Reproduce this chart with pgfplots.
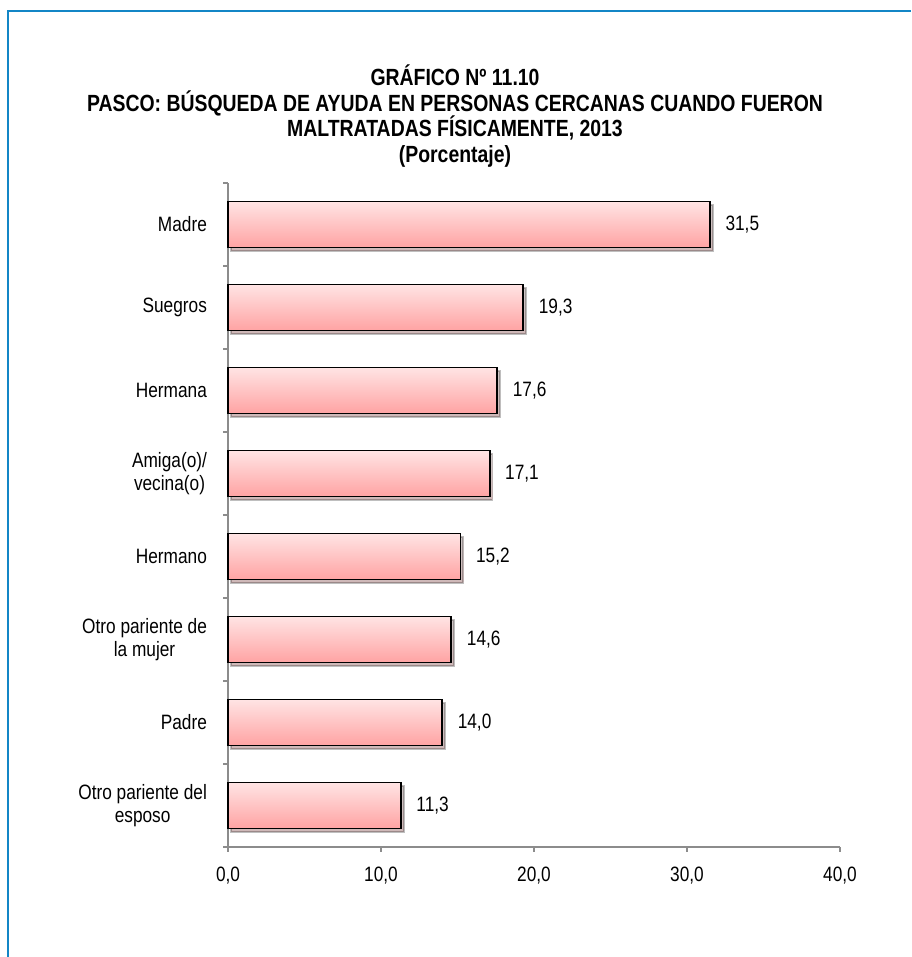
\documentclass[border=0pt]{standalone}
\usepackage{fontspec}
\setmainfont{Liberation Sans}[FakeStretch=0.83]
\usepackage{pgfplots}
\pgfplotsset{compat=1.18}
\usetikzlibrary{shadows}
\definecolor{frameblue}{RGB}{19,134,198}
\definecolor{bartop}{RGB}{255,228,228}
\definecolor{barbot}{RGB}{255,163,163}
\pgfplotsset{mybar/.style={draw=black, line width=0.9pt, top color=bartop, bottom color=barbot,
  drop shadow={shadow xshift=1.4pt, shadow yshift=-1.6pt, opacity=0.25, fill=black}}}
\begin{document}
\begin{tikzpicture}
\useasboundingbox (0,0) rectangle (455.5pt,478.5pt);
\draw[frameblue, line width=1.1pt] (4pt,0) -- (4pt,473pt) -- (455.5pt,473pt);
\node[font=\bfseries\fontsize{11.7}{12.8}\selectfont, align=center, anchor=north] at (227.5pt,449.5pt)
  {GRÁFICO Nº 11.10\\PASCO: BÚSQUEDA DE AYUDA EN PERSONAS CERCANAS CUANDO FUERON\\MALTRATADAS FÍSICAMENTE, 2013\\(Porcentaje)};
\begin{axis}[
  at={(114pt,55pt)}, anchor=south west,
  scale only axis, width=306pt, height=332pt,
  xmin=0, xmax=40, ymin=-0.5, ymax=7.5,
  xbar, bar width=23pt, bar shift=0pt,
  axis x line*=bottom, axis y line*=left,
  axis line style={black!45, line width=0.6pt},
  tick style={black!45, line width=0.6pt},
  tick align=outside, major tick length=2.5pt,
  xtick={0,10,20,30,40},
  ytick={-0.5,0.5,...,7.5}, yticklabels={},
  extra y ticks={0,1,2,3,4,5,6,7},
  extra y tick labels={{Otro pariente del\\esposo},{Padre},{Otro pariente de\\la mujer},{Hermano},{Amiga(o)/\\vecina(o)},{Hermana},{Suegros},{Madre}},
  extra y tick style={major tick length=0pt},
  yticklabel style={align=center, font=\fontsize{10.4}{11.6}\selectfont, xshift=-7pt},
  xticklabel style={font=\fontsize{10.4}{11.6}\selectfont, yshift=-4pt},
  /pgf/number format/.cd, fixed, fixed zerofill, precision=1, use comma, assume math mode=true,
  /pgfplots/.cd,
  nodes near coords,
  nodes near coords style={font=\fontsize{10.4}{11.6}\selectfont, anchor=west, xshift=4pt, black},
  clip=false,
]
\addplot[mybar] coordinates {(11.3,0)};
\addplot[mybar] coordinates {(14.0,1)};
\addplot[mybar] coordinates {(14.6,2)};
\addplot[mybar] coordinates {(15.2,3)};
\addplot[mybar] coordinates {(17.1,4)};
\addplot[mybar] coordinates {(17.6,5)};
\addplot[mybar] coordinates {(19.3,6)};
\addplot[mybar] coordinates {(31.5,7)};
\end{axis}
\end{tikzpicture}
\end{document}
